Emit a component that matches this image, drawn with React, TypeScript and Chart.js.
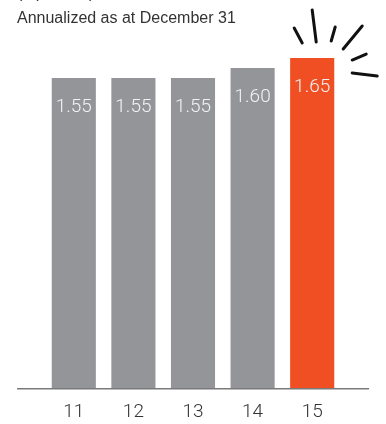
import React, { useEffect, useRef } from "react";
import { Chart, registerables } from "chart.js";

Chart.register(...registerables);

const categories = ["11", "12", "13", "14", "15"];
const values = [1.55, 1.55, 1.55, 1.6, 1.65];
const valueLabels = ["1.55", "1.55", "1.55", "1.60", "1.65"];
const headerLine1 = "($ per unit)";
const headerLine2 = "Annualized as at December 31";

const GRAY = "#939598";
const ORANGE = "#F04E23";

const barColors = values.map((_, i) => (i === values.length - 1 ? ORANGE : GRAY));

const decoPlugin = {
  id: "deco",
  afterDraw(chart: any) {
    const ctx = chart.ctx;
    const area = chart.chartArea;
    const meta = chart.getDatasetMeta(0);
    ctx.save();
    // baseline
    ctx.strokeStyle = "#7a7a7c";
    ctx.lineWidth = 1.5;
    ctx.beginPath();
    ctx.moveTo(area.left - 27, area.bottom + 0.5);
    ctx.lineTo(area.right + 27, area.bottom + 0.5);
    ctx.stroke();

    // value labels
    ctx.font = "300 19px Roboto, 'Liberation Sans', sans-serif";
    ctx.fillStyle = "#f2f2f2";
    ctx.textAlign = "center";
    ctx.textBaseline = "alphabetic";
    meta.data.forEach((bar: any, i: number) => {
      ctx.fillText(valueLabels[i], bar.x, bar.y + 34);
    });

    // header text
    ctx.textAlign = "left";
    ctx.fillStyle = "#333333";
    ctx.font = "16px 'Liberation Sans', sans-serif";
    ctx.fillText(headerLine1, area.left - 27, -2);
    ctx.fillText(headerLine2, area.left - 27, 23);

    // burst lines around last bar
    const last = meta.data[meta.data.length - 1];
    const bx = last.x;
    const by = last.y;
    const strokes = [
      [-18, -30, -10, -15],
      [0, -48, 4, -16],
      [23, -31, 19, -17],
      [50, -32, 31, -9],
      [54, -4, 40, 2],
      [40, 15, 65, 18],
    ];
    ctx.strokeStyle = "#111111";
    ctx.lineWidth = 3;
    ctx.lineCap = "round";
    strokes.forEach(([x1, y1, x2, y2]) => {
      ctx.beginPath();
      ctx.moveTo(bx + x1, by + y1);
      ctx.lineTo(bx + x2, by + y2);
      ctx.stroke();
    });
    ctx.restore();
  },
};

export default function App() {
  const ref = useRef<HTMLCanvasElement | null>(null);
  useEffect(() => {
    document.body.style.margin = "0";
    if (!ref.current) return;
    const chart = new Chart(ref.current, {
      type: "bar",
      data: {
        labels: categories,
        datasets: [
          {
            data: values,
            backgroundColor: barColors,
            borderWidth: 0,
            barPercentage: 0.74,
            categoryPercentage: 1,
          },
        ],
      },
      options: {
        responsive: false,
        animation: false,
        devicePixelRatio: 1,
        layout: { padding: { left: 44, right: 44, top: 8, bottom: 0 } },
        plugins: { legend: { display: false }, tooltip: { enabled: false }, title: { display: false } },
        scales: {
          x: {
            grid: { display: false, drawTicks: false },
            border: { display: false },
            ticks: {
              padding: 13,
              color: "#333333",
              font: { size: 19, family: "Roboto, 'Liberation Sans', sans-serif", weight: "300" as any },
            },
          },
          y: {
            display: false,
            min: 0,
            max: 1.9,
          },
        },
      },
      plugins: [decoPlugin],
    });
    return () => chart.destroy();
  }, []);
  return (
    <div style={{ position: "fixed", left: 0, top: 0, width: 386, height: 424, overflow: "hidden", background: "#fff" }}>
      <canvas ref={ref} width={386} height={437} style={{ display: "block" }} />
    </div>
  );
}
